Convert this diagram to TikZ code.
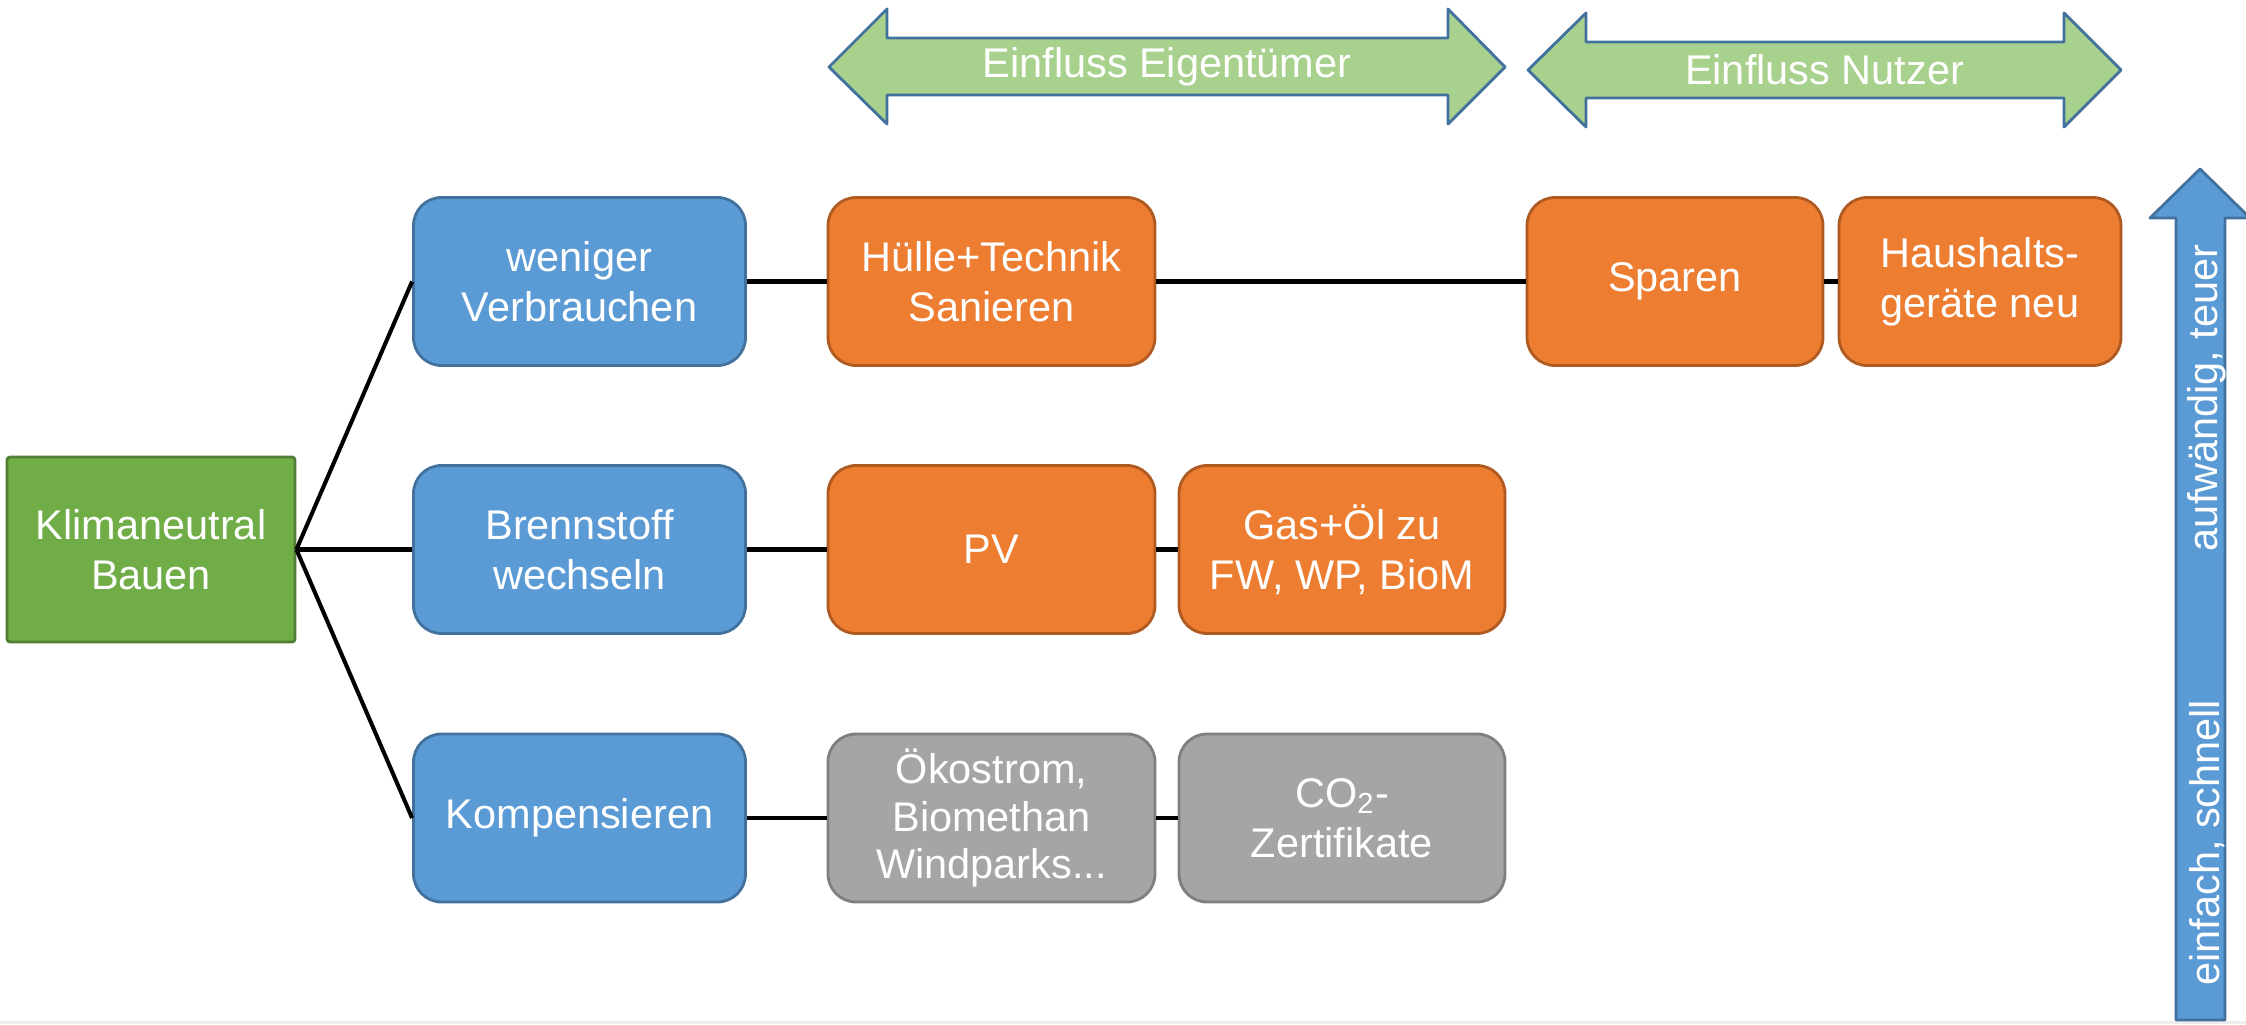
\documentclass[tikz,border=0pt]{standalone}
\usepackage{fontspec}
\setmainfont{Liberation Sans}
\definecolor{rootgreen}{HTML}{70AD47}
\definecolor{rootgreenline}{HTML}{507E32}
\definecolor{wayblue}{HTML}{5B9BD5}
\definecolor{wayblueline}{HTML}{41719C}
\definecolor{steporange}{HTML}{ED7D31}
\definecolor{steporangeline}{HTML}{AE5A21}
\definecolor{offsetgray}{HTML}{A5A5A5}
\definecolor{offsetgrayline}{HTML}{7F7F7F}
\definecolor{influencegreen}{HTML}{A9D18E}
\tikzset{
  box/.style={rounded corners=0.28cm, line width=0.8pt, text=white, align=center,
    inner sep=0pt, minimum height=1.68cm,
    font=\fontsize{11.8}{14.2}\selectfont},
  rootbox/.style={box, rounded corners=0.03cm, fill=rootgreen, draw=rootgreenline,
    minimum width=2.88cm, minimum height=1.85cm},
  waybox/.style={box, fill=wayblue, draw=wayblueline, minimum width=3.32cm},
  stepbox/.style={box, fill=steporange, draw=steporangeline},
  offsetbox/.style={box, fill=offsetgray, draw=offsetgrayline},
  link/.style={line width=1.15pt},
  bigarrow/.style={line width=0.8pt, line join=round, draw=wayblueline},
  arrowtext/.style={text=white, font=\fontsize{11.8}{14.2}\selectfont}
}
\begin{document}
\begin{tikzpicture}
\useasboundingbox (0,0) rectangle (22.46,10.24);
\fill[black!7] (0,0) rectangle (22.46,0.03);

% influence arrows on top
\filldraw[bigarrow, fill=influencegreen] (8.29,9.57) -- (8.87,10.15) -- (8.87,9.86) -- (14.48,9.86) -- (14.48,10.15) -- (15.05,9.57) -- (14.48,9.00) -- (14.48,9.29) -- (8.87,9.29) -- (8.87,9.00) -- cycle;
\node[arrowtext] (eigentuemer) at (11.67,9.57) {Einfluss Eigentümer};
\filldraw[bigarrow, fill=influencegreen] (15.28,9.54) -- (15.86,10.11) -- (15.86,9.82) -- (20.64,9.82) -- (20.64,10.11) -- (21.21,9.54) -- (20.64,8.97) -- (20.64,9.26) -- (15.86,9.26) -- (15.86,8.97) -- cycle;
\node[arrowtext] (nutzer) at (18.245,9.54) {Einfluss Nutzer};

% effort arrow on the right
\filldraw[bigarrow, fill=wayblue] (21.76,0.04) -- (21.76,8.06) -- (21.50,8.06) -- (22.00,8.55) -- (22.50,8.06) -- (22.25,8.06) -- (22.25,0.04) -- cycle;
\node[arrowtext, rotate=90, anchor=west] (einfach) at (22.07,0.26) {einfach, schnell};
\node[arrowtext, rotate=90, anchor=east] (aufwaendig) at (22.07,7.92) {aufwändig, teuer};

% boxes
\node[rootbox] (klima) at (1.51,4.745) {Klimaneutral\\Bauen};
\node[waybox] (weniger) at (5.795,7.425) {weniger\\Verbrauchen};
\node[waybox] (brennstoff) at (5.795,4.745) {Brennstoff\\wechseln};
\node[waybox] (kompens) at (5.795,2.06) {Kompensieren};
\node[stepbox, minimum width=3.27cm] (huelle) at (9.915,7.425) {Hülle+Technik\\Sanieren};
\node[stepbox, minimum width=3.27cm] (pv) at (9.915,4.745) {PV};
\node[stepbox, minimum width=3.26cm] (gas) at (13.42,4.745) {Gas+Öl zu\\FW, WP, BioM};
\node[stepbox, minimum width=2.96cm] (sparen) at (16.75,7.425) {Sparen};
\node[stepbox, minimum width=2.82cm] (haushalt) at (19.80,7.425) {Haushalts-\\geräte neu};
\node[offsetbox, minimum width=3.27cm, font=\fontsize{11.8}{13.4}\selectfont] (oeko) at (9.915,2.06) {Ökostrom,\\Biomethan\\Windparks...};
\node[offsetbox, minimum width=3.26cm] (zert) at (13.42,2.06) {CO\textsubscript{2}-\\Zertifikate};

% connectors
\draw[link] (klima.east) -- (weniger.west);
\draw[link] (klima.east) -- (brennstoff.west);
\draw[link] (klima.east) -- (kompens.west);
\draw[link] (weniger) -- (huelle);
\draw[link] (huelle) -- (sparen);
\draw[link] (sparen) -- (haushalt);
\draw[link] (brennstoff) -- (pv);
\draw[link] (pv) -- (gas);
\draw[link] (kompens) -- (oeko);
\draw[link] (oeko) -- (zert);
\end{tikzpicture}
\end{document}
